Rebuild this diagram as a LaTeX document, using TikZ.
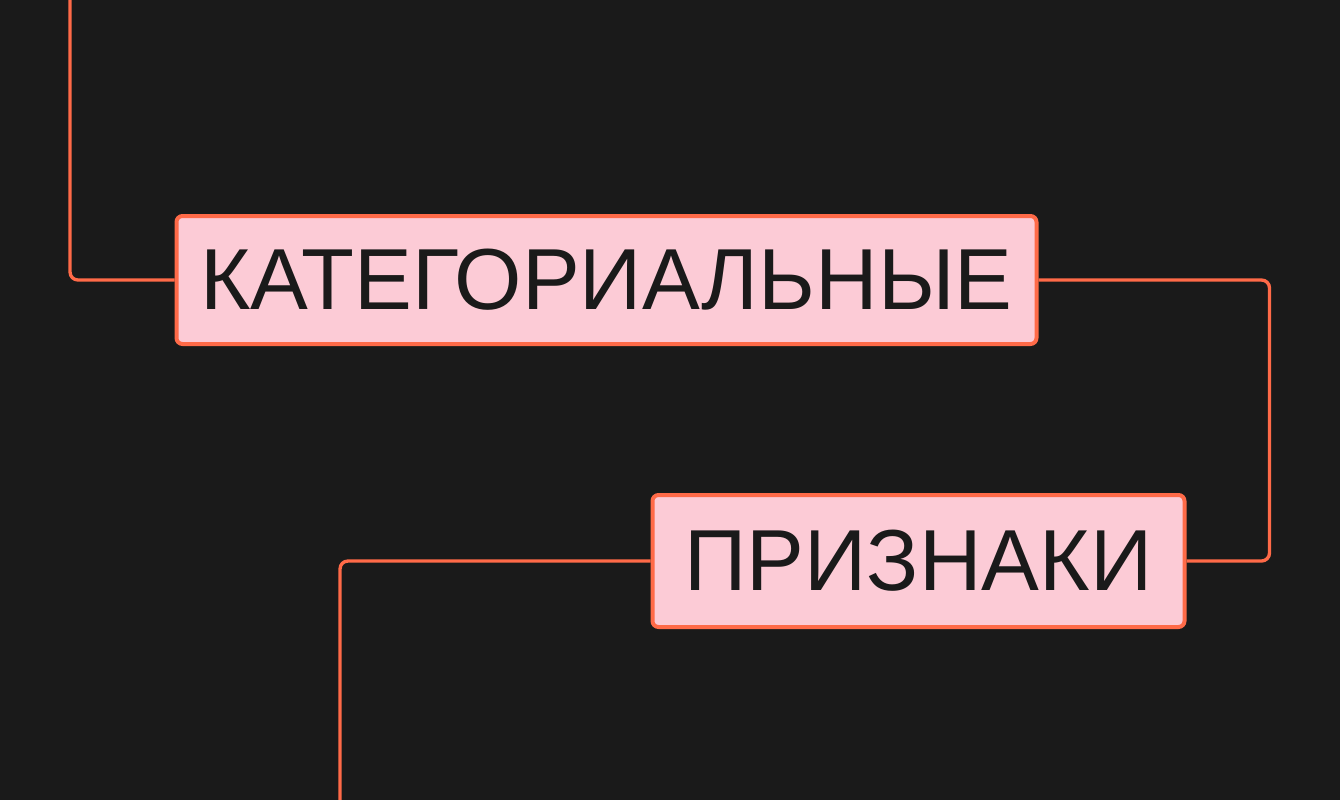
\documentclass[tikz,border=0pt]{standalone}
\usepackage{fontspec}
\setmainfont{Liberation Sans}
\definecolor{bgdark}{HTML}{1A1A1A}
\definecolor{tagpink}{HTML}{FCCBD6}
\definecolor{tagline}{HTML}{FF6A48}
\tikzset{
  tag/.style={draw=tagline, fill=tagpink, line width=3pt, rounded corners=4.5pt,
    text=bgdark, inner sep=0pt, font=\fontsize{65}{65}\selectfont},
  link/.style={draw=tagline, line width=2.5pt, rounded corners=6pt},
}
\begin{document}
\begin{tikzpicture}[x=0.75pt,y=-0.75pt]
  \fill[bgdark] (0,0) rectangle (1340,800);
  \useasboundingbox (0,0) rectangle (1340,800);

  \coordinate (top) at (70,0);
  \coordinate (bot) at (340,800);
  \node[tag, minimum width=645pt, minimum height=96pt] (kat) at (606.5,280) {КАТЕГОРИАЛЬНЫЕ};
  \node[tag, minimum width=399pt, minimum height=99pt] (pri) at (918.5,561) {ПРИЗНАКИ};

  \draw[link] (top) |- (kat.west);
  \draw[link] (kat.east) -- ++(231,0) |- (pri.east);
  \draw[link] (pri.west) -| (bot);
\end{tikzpicture}
\end{document}
